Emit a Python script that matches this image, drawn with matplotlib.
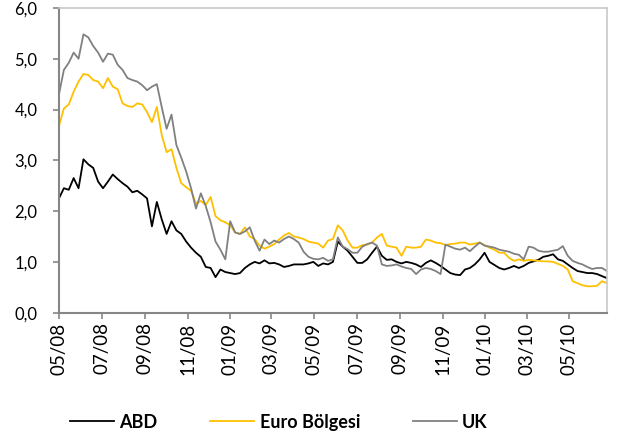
import datetime as dt
import matplotlib
matplotlib.use("Agg")
import matplotlib.pyplot as plt
import matplotlib.dates as mdates
from matplotlib.ticker import FuncFormatter, MultipleLocator

# weekly observations starting 1 May 2008
start_date = dt.date(2008, 5, 1)

abd = [2.25, 2.45, 2.42, 2.65, 2.45, 3.02, 2.92, 2.85, 2.58, 2.45,
       2.58, 2.72, 2.63, 2.55, 2.48, 2.37, 2.40, 2.33, 2.25, 1.70,
       2.18, 1.84, 1.55, 1.80, 1.62, 1.55, 1.40, 1.28, 1.18, 1.10,
       0.90, 0.88, 0.70, 0.85, 0.80, 0.78, 0.76, 0.78, 0.88, 0.95,
       1.00, 0.97, 1.03, 0.97, 0.98, 0.95, 0.90, 0.92, 0.95, 0.95,
       0.95, 0.97, 1.00, 0.92, 0.97, 0.95, 1.00, 1.40, 1.30, 1.22,
       1.10, 0.98, 0.98, 1.05, 1.18, 1.30, 1.12, 1.04, 1.05, 1.00,
       0.97, 1.00, 0.98, 0.95, 0.90, 0.98, 1.03, 0.98, 0.92, 0.85,
       0.78, 0.75, 0.74, 0.85, 0.88, 0.95, 1.05, 1.18, 1.00, 0.94,
       0.88, 0.85, 0.88, 0.92, 0.88, 0.92, 0.98, 1.01, 1.04, 1.10,
       1.12, 1.15, 1.05, 1.02, 0.95, 0.88, 0.82, 0.80, 0.78, 0.78,
       0.76, 0.72, 0.68]

euro = [3.68, 4.02, 4.10, 4.35, 4.55, 4.70, 4.68, 4.58, 4.55, 4.42,
        4.62, 4.45, 4.40, 4.12, 4.07, 4.05, 4.12, 4.10, 3.95, 3.75,
        4.05, 3.50, 3.16, 3.22, 2.85, 2.55, 2.47, 2.40, 2.15, 2.20,
        2.12, 2.28, 1.90, 1.82, 1.78, 1.72, 1.58, 1.55, 1.68, 1.50,
        1.45, 1.32, 1.26, 1.30, 1.35, 1.44, 1.52, 1.57, 1.50, 1.48,
        1.45, 1.40, 1.38, 1.36, 1.28, 1.42, 1.45, 1.72, 1.62, 1.42,
        1.28, 1.28, 1.33, 1.34, 1.38, 1.48, 1.55, 1.32, 1.30, 1.28,
        1.12, 1.30, 1.28, 1.28, 1.30, 1.44, 1.42, 1.38, 1.37, 1.33,
        1.35, 1.36, 1.38, 1.38, 1.34, 1.36, 1.38, 1.33, 1.28, 1.24,
        1.18, 1.18, 1.08, 1.02, 1.05, 1.02, 1.04, 1.03, 1.02, 1.01,
        1.01, 1.00, 0.96, 0.92, 0.85, 0.62, 0.58, 0.54, 0.52, 0.52,
        0.53, 0.62, 0.58]

uk = [4.30, 4.78, 4.92, 5.12, 5.00, 5.48, 5.42, 5.25, 5.12, 4.94,
      5.10, 5.08, 4.88, 4.78, 4.62, 4.58, 4.55, 4.48, 4.38, 4.45,
      4.50, 4.05, 3.62, 3.90, 3.30, 3.05, 2.78, 2.45, 2.05, 2.35,
      2.10, 1.78, 1.40, 1.24, 1.05, 1.80, 1.58, 1.55, 1.60, 1.68,
      1.42, 1.22, 1.44, 1.35, 1.42, 1.38, 1.45, 1.50, 1.45, 1.38,
      1.20, 1.10, 1.06, 1.05, 1.08, 1.02, 1.05, 1.48, 1.30, 1.25,
      1.18, 1.18, 1.30, 1.35, 1.38, 1.32, 0.95, 0.92, 0.93, 0.95,
      0.91, 0.88, 0.86, 0.76, 0.85, 0.88, 0.86, 0.82, 0.76, 1.34,
      1.30, 1.26, 1.24, 1.28, 1.21, 1.30, 1.38, 1.32, 1.30, 1.28,
      1.24, 1.22, 1.20, 1.16, 1.14, 1.05, 1.30, 1.28, 1.22, 1.20,
      1.20, 1.22, 1.24, 1.31, 1.12, 1.02, 0.98, 0.95, 0.90, 0.86,
      0.88, 0.88, 0.82]

series = [("ABD", abd, "#000000"),
          ("Euro Bölgesi", euro, "#FFC000"),
          ("UK", uk, "#808080")]


def main():
    plt.rcParams['font.family'] = ['Lato', 'DejaVu Sans']
    dates = [start_date + dt.timedelta(days=7 * i) for i in range(len(abd))]

    fig = plt.figure(figsize=(6.17, 4.41), dpi=100)
    ax = fig.add_axes([0.0956, 0.291, 0.888, 0.691])

    for label, values, color in series:
        ax.plot(dates, values, color=color, lw=1.3, label=label)

    ax.set_ylim(0, 6)
    ax.set_xlim(dates[0], dates[-1])
    ax.yaxis.set_major_locator(MultipleLocator(1))
    ax.yaxis.set_major_formatter(FuncFormatter(lambda v, p: f"{v:.1f}".replace(".", ",")))
    ax.xaxis.set_major_locator(mdates.MonthLocator(bymonth=[1, 3, 5, 7, 9, 11]))
    ax.xaxis.set_major_formatter(mdates.DateFormatter("%m/%y"))
    plt.setp(ax.get_xticklabels(), rotation=90)

    ax.tick_params(axis='both', direction='out', length=4.5, width=1.2,
                   color='#868686', labelcolor='#000000')
    ax.tick_params(axis='x', pad=2.5, labelsize=13.5)
    ax.tick_params(axis='y', pad=11, labelsize=12)
    for side in ['left', 'bottom']:
        ax.spines[side].set_color('#868686')
        ax.spines[side].set_linewidth(1.5)
    for side in ['top', 'right']:
        ax.spines[side].set_color('#c8c8c8')
        ax.spines[side].set_linewidth(1.2)

    handles, labels = ax.get_legend_handles_labels()
    fig.legend(handles, labels, loc='center', bbox_to_anchor=(0.452, 0.043),
               ncol=3, frameon=False, handlelength=2.45, handletextpad=0.3,
               columnspacing=2.9, prop={'weight': 'bold', 'size': 13})

    fig.savefig("out.png", dpi=100)


if __name__ == "__main__":
    main()
